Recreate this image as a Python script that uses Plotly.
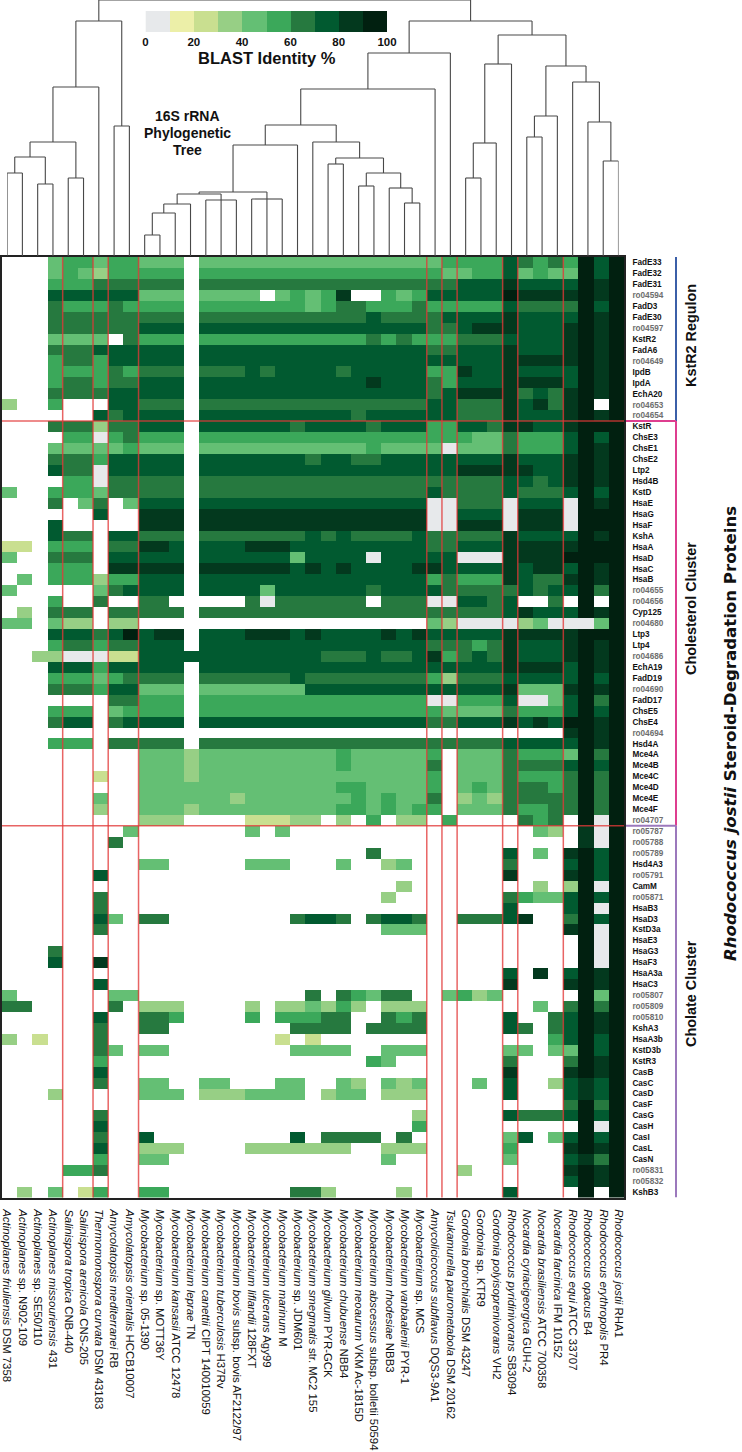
import numpy as np
import plotly.graph_objects as go

W, H = 742, 1452

SPECIES = [
    ("Actinoplanes friuliensis", "DSM 7358"), ("Actinoplanes", "sp. N902-109"), ("Actinoplanes", "sp. SE50/110"),
    ("Actinoplanes missouriensis", "431"), ("Salinispora tropica", "CNB-440"), ("Salinispora arenicola", "CNS-205"),
    ("Thermomonospora curvata", "DSM 43183"), ("Amycolatopsis mediterranei", "RB"), ("Amycolatopsis orientalis", "HCCB10007"),
    ("Mycobacterium", "sp. 05-1390"), ("Mycobacterium", "sp. MOTT36Y"), ("Mycobacterium kansasii", "ATCC 12478"),
    ("Mycobacterium leprae", "TN"), ("Mycobacterium canettii", "CIPT 140010059"), ("Mycobacterium tuberculosis", "H37Rv"),
    ("Mycobacterium bovis", "subsp. bovis AF2122/97"), ("Mycobacterium liflandii", "128FXT"), ("Mycobacterium ulcerans", "Agy99"),
    ("Mycobacterium marinum", "M"), ("Mycobacterium", "sp. JDM601"), ("Mycobacterium smegmatis", "str. MC2 155"),
    ("Mycobacterium gilvum", "PYR-GCK"), ("Mycobacterium chubuense", "NBB4"), ("Mycobacterium neoaurum", "VKM Ac-1815D"),
    ("Mycobacterium abscessus", "subsp. bolletii 50594"), ("Mycobacterium rhodesiae", "NBB3"), ("Mycobacterium vanbaalenii", "PYR-1"),
    ("Mycobacterium", "sp. MCS"), ("Amycolicicoccus subflavus", "DQS3-9A1"), ("Tsukamurella paurometabola", "DSM 20162"),
    ("Gordonia bronchialis", "DSM 43247"), ("Gordonia", "sp. KTR9"), ("Gordonia polyisoprenivorans", "VH2"),
    ("Rhodococcus pyridinivorans", "SB3094"), ("Nocardia cyriacigeorgica", "GUH-2"), ("Nocardia brasiliensis", "ATCC 700358"),
    ("Nocardia farcinica", "IFM 10152"), ("Rhodococcus equi", "ATCC 33707"), ("Rhodococcus opacus", "B4"),
    ("Rhodococcus erythropolis", "PR4"), ("Rhodococcus jostii", "RHA1"),
]

# Identity decile per cell: '.' = no hit, 0 = 0-10 %, 1 = 10-20 %, ... 9 = 90-100 %
KSTR2_ROWS = [
    ("FadE33",  "...4 55 4 55 444.444444444444444 4 5 555 7 656 5979"),
    ("FadE32",  "...4 54 3 55 555.555555555555555 5 4 455 7 454 4979"),
    ("FadE31",  "...5 55 6 66 666.666666666666666 6 6 777 8 777 7989"),
    ("ro04594", "...7 77 7 77 444.4444.45458..545 7 7 777 9 888 8989"),
    ("FadD3",   "...6 55 5 65 555.555555545665556 5 5 555 7 666 6979"),
    ("FadE30",  "...6 66 6 66 666.666666666667666 6 7 777 8 777 7989"),
    ("ro04597", "...6 66 6 66 777.777777777777777 6 6 788 8 777 8989"),
    ("KstR2",   "...4 44 4 .6 555.555555555556565 5 5 666 7 777 8989"),
    ("FadA6",   "...6 66 7 77 777.777777777777777 6 6 777 8 777 8989"),
    ("ro04649", "...5 66 5 77 777.777777777777777 7 7 777 8 888 8989"),
    ("IpdB",    "...5 55 5 65 666.666767777677777 5 5 877 8 777 7989"),
    ("IpdA",    "...5 66 5 66 777.777777777778777 6 5 777 8 888 7989"),
    ("EchA20",  "...6 66 6 77 777.777777777777777 6 7 888 8 676 8989"),
    ("ro04653", "3..5 .. . 77 666.666666666666666 7 7 666 8 786 89.9"),
    ("ro04654", ".... .. 7 67 777.777777777767777 7 7 666 8 777 8989"),
]
CHOLESTEROL_ROWS = [
    ("KstR",    "...6 66 3 66 777.777777677776777 5 5 776 8 877 8999"),
    ("ChsE3",   ".... 55 0 56 555.555555555555555 5 5 544 6 555 7979"),
    ("ChsE1",   "...4 44 4 45 444.444444444445444 4 0 444 6 555 7989"),
    ("ChsE2",   "...6 66 5 77 777.777777767766777 7 7 777 8 777 8989"),
    ("Ltp2",    "...7 66 0 77 777.777777777777777 7 7 888 8 877 8989"),
    ("Hsd4B",   ".... 55 0 66 666.666666666666666 6 6 666 7 767 8989"),
    ("KstD",    "4..5 55 4 66 666.666666666666666 7 6 666 7 666 7979"),
    ("HsaE",    "...6 .4 6 .4 777.777777777777777 0 0 666 0 777 0989"),
    ("HsaG",    ".... .. 7 .. 888.888888888888888 0 0 777 0 888 0999"),
    ("HsaF",    "...7 .. . .. 888.888888888888888 0 0 888 0 888 0999"),
    ("KshA",    "...7 66 . 77 666.666666676766667 6 6 666 8 777 7989"),
    ("HsaA",    "22.5 55 . 66 887.777888777777777 6 6 777 8 888 8999"),
    ("HsaD",    "4..6 66 . 77 777.777777477770777 7 7 000 8 888 9999"),
    ("HsaC",    "...5 55 . 88 888.888888787877778 8 7 777 8 788 7989"),
    ("HsaB",    ".4.5 55 3 55 777.777777777777777 5 6 555 8 766 8989"),
    ("ro04655", "4... .. 4 67 777.777747777776777 7 6 666 6 767 7969"),
    ("ro04656", "...5 .. 6 .. 66.....60666666.666 0 0 776 7 ..6 .9.9"),
    ("Cyp125",  ".3.6 66 . 66 666.666666666666666 6 6 666 7 877 7989"),
    ("ro04680", "44.4 33 . 33 ................... 4 3 000 0 340 0049"),
    ("Ltp3",    "...7 77 6 79 788.777888787777878 7 7 777 8 888 8999"),
    ("Ltp4",    "...5 66 5 66 777.777777777777777 6 6 656 8 777 8989"),
    ("ro04686", "..33 00 0 22 7777777777776667667 8 5 676 8 777 8989"),
    ("EchA19",  "...7 77 5 77 777.777777777777777 7 7 777 8 888 7989"),
    ("FadD19",  "...5 55 4 56 666.666666766666666 5 3 666 7 777 7979"),
    ("ro04690", "...6 66 5 77 444.444444477777777 7 7 777 8 444 8989"),
    ("FadD17",  ".... .. . 66 555.555555555555555 0 0 555 7 004 7969"),
    ("ChsE5",   "...5 55 . 45 555.555555555555555 5 4 444 6 555 7979"),
    ("ChsE4",   "...6 77 . 67 777.777777777777777 6 6 777 8 787 9989"),
    ("ro04694", ".... .. . .. ................... . . ... . ... 8989"),
    ("Hsd4A",   "...5 55 . 66 666.666666666666666 6 6 666 7 777 7989"),
    ("Mce4A",   ".... .. . .. 4443444444444544444 5 . 444 6 555 4969"),
    ("Mce4B",   ".... .. . .. 4443444444444544444 6 . 444 6 666 7979"),
    ("Mce4C",   ".... .. 2 .. 4443444444444444444 5 . 444 6 555 6969"),
    ("Mce4D",   ".... .. . .. 4444444444444554444 5 . 454 6 665 6969"),
    ("Mce4E",   ".... .. 4 .. 4444443444444454544 6 . 343 6 666 6969"),
    ("Mce4F",   ".... .. 3 .. 4443444444444554545 5 . 444 6 556 6969"),
    ("ro04707", ".... .. . .. 333....22233.3.5.33 . 5 ... . 656 .909"),
]
CHOLATE_ROWS = [
    ("ro05787", ".... .. . .4 .......4.4......... . . ... . .43 .809"),
    ("ro05788", ".... .. . 6. ................... . . ... . ... .809"),
    ("ro05789", ".... .. . .. ...............6... . . ... 7 .4. 8979"),
    ("Hsd4A3",  ".... .. . .. 44.....444...4..34. . . ... 6 ... 7979"),
    ("ro05791", ".... .. 7 .. ................... . . ... 8 ... 8979"),
    ("CamM",    ".... .. . .. .................3. . . ... . .3. 3909"),
    ("ro05871", ".... .. 6 .. ................3.. . . ... 6 544 7979"),
    ("HsaB3",   ".... .. 6 .. ................... . . ... 7 ... 7909"),
    ("HsaD3",   ".... .. 7 4. 66........6776.6776 . . 666 7 8.. 6979"),
    ("KstD3a",  ".... .. 6 .. ................444 . . ... . ... 8909"),
    ("HsaE3",   ".... .. . .. ................... . . ... . ... .909"),
    ("HsaG3",   "...6 .. . .. ................... . . ... . ... .909"),
    ("HsaF3",   "...7 .. 8 .. ................... . . ... . ... .909"),
    ("HsaA3a",  ".... .. . .. ................... . . ... 7 .8. 7989"),
    ("HsaC3",   ".... .. 7 .. ................... . . ... 8 ... 8989"),
    ("ro05807", "4... .. . 44 ...........6.65466. . 4 534 . ... .949"),
    ("ro05809", "66.. .. . 6. 333....3.334353.333 . . ... . .4. 6969"),
    ("ro05810", ".... .. 7 .. 665....5.55566..656 . . ... 7 ..6 7989"),
    ("KshA3",   ".... .. 6 .. 66........6666.6666 . . ... 7 6.6 7989"),
    ("HsaA3b",  "3.2. .. 6 .. .........2.2....... . . ... . ..5 7979"),
    ("KstD3b",  ".... .. 6 4. 44........4444..444 . . ... 4 4.4 4979"),
    ("KstR3",   ".... .. 5 .. ...............54.. . . ... 6 ... 6989"),
    ("CasB",    ".... .. 7 .. ................... . . ... 8 ... 8989"),
    ("CasC",    ".... .. 6 .. 44..44...44..43.434 . . .4. 7 ..3 7879"),
    ("CasD",    "...3 .. . .. 444.3334444.344.333 . . ... 7 ... 7879"),
    ("CasF",    ".... .. . .. ................... . . ... . ... 6969"),
    ("CasG",    ".... .. 6 .. ..................3 . . ... 7 666 7979"),
    ("CasH",    ".... .. 7 .. ..................5 . . ... . ... .909"),
    ("CasI",    ".... .. 6 .. 7.........7.6666.6. . . ... 4 7.4 7979"),
    ("CasL",    ".... .. 7 .. 333....3333333..333 . . ... 5 ... 8989"),
    ("CasN",    ".... .. 5 .. 44..............4.. . . ... 4 ... 7869"),
    ("ro05831", ".... 55 6 .. ................... . . 3.. . ... 8989"),
    ("ro05832", ".... .. . .. ................... . . ... . ... 7989"),
    ("KshB3",   ".3.4 .2 5 .. 55........663....3. . . ... 7 ... .9.9"),
]

# colour of each decile
BIN_COLORS = ["#E7E9EB", "#ECEFA8", "#C9DF90", "#97CF85", "#64BF74",
              "#3BA85A", "#26793F", "#015A30", "#03391E", "#012010"]
LEGEND_TICKS = [0, 20, 40, 60, 80, 100]

# column/row counts after which a red separator is drawn
COLUMN_BREAKS = [4, 6, 7, 9, 28, 29, 30, 33, 34, 37]

# Tree: (children, height). Children are leaf numbers (1-41) or keys of other merges
TREE = {
    "a": ((1, 2), 83), "b": ((3, 4), 72), "c": (("a", "b"), 99), "d": ((5, 6), 78),
    "e": (("c", "d"), 114), "f": (("e", 7), 169), "g": ((8, 9), 130), "h": (("f", "g"), 235),
    "i": ((10, 11), 21), "j": (("i", 12), 43), "k": (("j", 13), 52), "l": ((14, 15, 16), 56),
    "m": (("k", "l"), 62), "n": ((17, 18, 19), 57), "o": (("m", "n"), 64), "p": (("o", 20), 111),
    "q": ((27, 28), 53), "r": ((26, "q"), 68), "s": ((24, 25), 70), "t": (("s", "r"), 83),
    "u": ((22, 23), 92), "v": (("u", "t"), 98), "w": ((21, "v"), 114), "x": (("p", "w"), 131),
    "y": (("x", 29), 167), "z": (("y", 30), 203),
    "aa": ((31, 32), 78), "ab": (("aa", 33), 113), "ac": (("ab", 34), 192),
    "ad": ((35, 36), 119), "ae": (("ad", 37), 140),
    "af": ((40, 41), 95), "ag": ((39, "af"), 134), "ah": ((38, "ag"), 174),
    "ai": (("ae", "ah"), 190), "aj": (("ac", "ai"), 221), "ak": (("z", "aj"), 235),
    "root": (("h", "ak"), 256),
}

# ---------------- build ----------------
rows = KSTR2_ROWS + CHOLESTEROL_ROWS + CHOLATE_ROWS
row_labels = [r[0] for r in rows]
species_keys = [a + " " + b for a, b in SPECIES]
z = []
for name, s in rows:
    s = s.replace(" ", "")
    assert len(s) == 41, name
    z.append([np.nan if c == "." else int(c) * 10 + 5 for c in s])

colorscale = []
for i, c in enumerate(BIN_COLORS):
    colorscale += [[i / 10, c], [(i + 1) / 10, c]]

def px_x(p): return p / W
def px_y(p): return 1 - p / H

HM_L, HM_R, HM_T, HM_B = 2, 624, 257, 1197.5
FONT = "Liberation Sans"

fig = go.Figure()
fig.add_trace(go.Heatmap(z=z, x=species_keys, y=row_labels, zmin=0, zmax=100, colorscale=colorscale,
                         showscale=False, hoverongaps=False, xaxis="x", yaxis="y"))

# dendrogram
def node(key):
    if isinstance(key, int):
        return float(key), 0.0
    kids, h = TREE[key]
    xs = [node(k)[0] for k in kids]
    return (min(xs) + max(xs)) / 2, float(h)

lx, ly = [], []
for key, (kids, h) in TREE.items():
    pts = [node(k) for k in kids]
    xs = [p[0] for p in pts]
    lx += [min(xs), max(xs), None]
    ly += [h, h, None]
    for x_, y_ in pts:
        lx += [x_, x_, None]
        ly += [y_, h, None]
fig.add_trace(go.Scatter(x=lx, y=ly, mode="lines", line=dict(color="#484848", width=1.1),
                         hoverinfo="skip", showlegend=False, cliponaxis=False, xaxis="x2", yaxis="y2"))

# legend ramp
fig.add_trace(go.Heatmap(z=[[i * 10 + 5 for i in range(10)]], x=[i * 10 + 5 for i in range(10)], y=[0],
                         zmin=0, zmax=100, colorscale=colorscale, showscale=False, xaxis="x3", yaxis="y3"))

shapes = []
RED = "rgba(226,56,56,0.78)"
for b in COLUMN_BREAKS:
    shapes.append(dict(type="line", xref="x", yref="y domain", x0=b - 0.5, x1=b - 0.5, y0=0, y1=1,
                       line=dict(color=RED, width=1.5), layer="above"))
n1 = len(KSTR2_ROWS)
n2 = n1 + len(CHOLESTEROL_ROWS)
n3 = n2 + len(CHOLATE_ROWS)
for b in (n1, n2):
    shapes.append(dict(type="line", xref="x domain", yref="y", x0=0, x1=1, y0=b - 0.5, y1=b - 0.5,
                       line=dict(color=RED, width=1.5), layer="above"))
for start, end, col in ((-0.25, n1, "#3B5FA8"), (n1, n2, "#DE3E8F"), (n2, n3, "#9B78BC")):
    x0, x1 = px_x(626), px_x(676)
    shapes.append(dict(type="line", xref="paper", yref="y", x0=x0, x1=x1, y0=start - 0.5, y1=start - 0.5,
                       line=dict(color=col, width=2)))
    shapes.append(dict(type="line", xref="paper", yref="y", x0=x1, x1=x1, y0=start - 0.5, y1=end - 0.5,
                       line=dict(color=col, width=2)))

def ann(text, x, y, size, angle=0, family=FONT):
    return dict(text=text, xref="paper", yref="paper", x=px_x(x), y=px_y(y), showarrow=False,
                textangle=angle, xanchor="center", yanchor="middle", align="center",
                font=dict(family=family, size=size, color="#111"))

annotations = [
    ann("<b>BLAST Identity %</b>", 267, 58, 16.5),
    ann("<b>16S rRNA</b>", 187, 116, 14),
    ann("<b>Phylogenetic</b>", 187, 133, 14),
    ann("<b>Tree</b>", 187, 150, 14),
    ann("<b>KstR2 Regulon</b>", 691, 336, 14.4, -90),
    ann("<b>Cholesterol Cluster</b>", 691, 609, 14.4, -90),
    ann("<b>Cholate Cluster</b>", 691, 994, 14.4, -90),
    ann("<b><i>Rhodococcus jostii</i> Steroid-Degradation Proteins</b>", 731, 734, 16.6, -90, "DejaVu Sans"),
]

row_ticktext = ['<b><span style="color:%s">%s</span></b>' % ("#6e6e6e" if n.startswith("ro0") else "#111", n)
                for n in row_labels]
species_ticktext = ["<i>%s</i> %s" % (a, b) for a, b in SPECIES]

fig.update_layout(
    width=W, height=H, margin=dict(l=0, r=0, t=0, b=0), paper_bgcolor="white", plot_bgcolor="white",
    showlegend=False, shapes=shapes, annotations=annotations,
    font=dict(family=FONT, color="#111"),
    xaxis=dict(domain=[px_x(HM_L), px_x(HM_R)], type="category", range=[-0.5, 40.5], showticklabels=False,
               ticks="", showgrid=False, zeroline=False, showline=True, mirror=True, linecolor="#222", linewidth=1.5,
               anchor="y"),
    yaxis=dict(domain=[px_y(HM_B), px_y(HM_T)], type="category", range=[len(rows) - 0.5, -0.5], side="right",
               tickmode="array", tickvals=row_labels, ticktext=row_ticktext, tickfont=dict(size=8.2, family=FONT),
               ticks="outside", ticklen=5, tickcolor="rgba(0,0,0,0)", showgrid=False, zeroline=False,
               showline=True, mirror=True, linecolor="#222", linewidth=1.5, anchor="x", automargin=False),
    xaxis2=dict(domain=[px_x(7.1), px_x(618.5)], range=[1, 41], anchor="free", position=px_y(1198), side="bottom",
                tickmode="array", tickvals=list(range(1, 42)), ticktext=species_ticktext, tickangle=90,
                tickfont=dict(size=11.4, family=FONT, color="#111"), ticks="outside", ticklen=8,
                tickcolor="rgba(0,0,0,0)", showgrid=False, zeroline=False, showline=False, automargin=False),
    yaxis2=dict(domain=[px_y(256), 1], range=[0, 256], anchor="x2", visible=False),
    xaxis3=dict(domain=[px_x(145.5), px_x(387)], range=[0, 100], anchor="y3", tickmode="array", tickvals=LEGEND_TICKS,
                ticktext=["<b>%d</b>" % t for t in LEGEND_TICKS], tickfont=dict(size=11.5, family=FONT, color="#111"),
                ticks="", showgrid=False, zeroline=False, showline=False, automargin=False, ticklabelstandoff=1),
    yaxis3=dict(domain=[px_y(32), px_y(11)], anchor="x3", visible=False, range=[-0.5, 0.5]),
)

fig.write_html("out.html", config={"displayModeBar": False}, post_script="document.body.style.margin='0';")
